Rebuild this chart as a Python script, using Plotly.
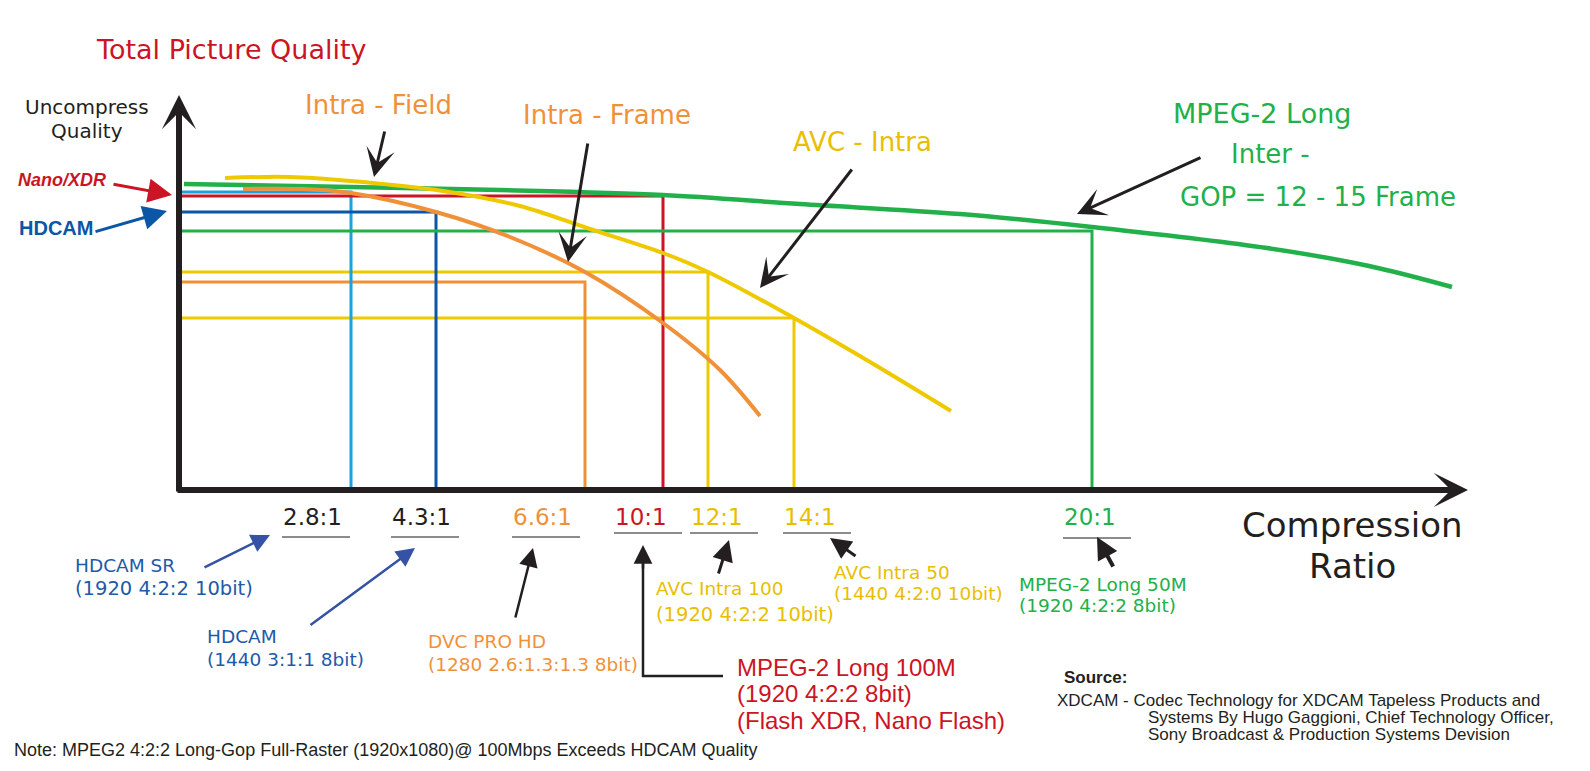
import plotly.graph_objects as go

FIG_W, FIG_H = 1590, 771

# ---------------- data ----------------
ratio_labels = ["2.8:1", "4.3:1", "6.6:1", "10:1", "12:1", "14:1", "20:1"]
ratio_pos = [351, 436, 585, 663, 708, 794, 1092]        # where each ratio sits on the compression axis
codec_quality = [192, 212, 282, 196, 272, 318, 231]    # quality level reached by each codec (axis units, smaller = better)
codec_names = ["HDCAM SR", "HDCAM", "DVC PRO HD", "MPEG-2 Long 100M",
               "AVC Intra 100", "AVC Intra 50", "MPEG-2 Long 50M"]
codec_specs = ["(1920 4:2:2 10bit)", "(1440 3:1:1 8bit)", "(1280 2.6:1.3:1.3 8bit)",
               "(1920 4:2:2 8bit)", "(1920 4:2:2 10bit)", "(1440 4:2:0 10bit)", "(1920 4:2:2 8bit)"]

mpeg2_long_x = [184, 351, 500, 663, 800, 960, 1092, 1267, 1369, 1452]
mpeg2_long_y = [184, 187, 190, 195, 204, 214, 227, 248, 266, 287]
avc_intra_x = [225, 290, 351, 443, 520, 587, 663, 708, 794, 870, 951]
avc_intra_y = [178, 177, 181, 191, 206, 228, 253, 272, 318, 362, 411]
intra_frame_x = [243, 300, 351, 436, 510, 585, 663, 720, 760]
intra_frame_y = [189, 189, 193, 212, 237, 272, 323, 370, 416]

# ---------------- styling ----------------
BLACK = "#231F20"
RED = "#CC1424"
ORANGE = "#F0913A"
YELLOW = "#EEC900"
YELLOW_T = "#E9BE00"
GREEN = "#22B04B"
LBLUE = "#1BA1DC"
DBLUE = "#0B56A6"
TBLUE = "#1E5AA8"
ABLUE = "#3553A4"
GRAY = "#8C8C8C"
GEO = "DejaVu Sans"
ARIAL = "Liberation Sans, Arial, sans-serif"

codec_colors = [LBLUE, DBLUE, ORANGE, RED, YELLOW, YELLOW, GREEN]
tick_colors = [BLACK, BLACK, ORANGE, RED, YELLOW_T, YELLOW_T, GREEN]
tick_left = [282, 391, 512, 614, 690, 783, 1063]
underline_y = [537, 537, 537, 533, 533, 533, 538]

X0, Y0 = 179, 490          # axes origin
fig = go.Figure()

# codec reference L-lines (quality level -> ratio -> axis)
order = [5, 4, 2, 0, 1, 3, 6]
for i in order:
    fig.add_trace(go.Scatter(
        x=[X0 + 3, ratio_pos[i], ratio_pos[i]],
        y=[codec_quality[i], codec_quality[i], Y0 - 3],
        mode="lines", line=dict(color=codec_colors[i], width=3),
        hoverinfo="skip"))

# curves
fig.add_trace(go.Scatter(x=mpeg2_long_x, y=mpeg2_long_y, mode="lines",
                         line=dict(color=GREEN, width=4.5, shape="spline", smoothing=1),
                         hoverinfo="skip"))
fig.add_trace(go.Scatter(x=intra_frame_x, y=intra_frame_y, mode="lines",
                         line=dict(color=ORANGE, width=4, shape="spline", smoothing=1),
                         hoverinfo="skip"))
fig.add_trace(go.Scatter(x=avc_intra_x, y=avc_intra_y, mode="lines",
                         line=dict(color=YELLOW, width=4, shape="spline", smoothing=1),
                         hoverinfo="skip"))

# gray underlines below the ratio labels
for i in range(len(ratio_labels)):
    fig.add_trace(go.Scatter(x=[tick_left[i], tick_left[i] + 68], y=[underline_y[i]] * 2,
                             mode="lines", line=dict(color=GRAY, width=2), hoverinfo="skip"))

# connector for MPEG-2 Long 100M label
fig.add_trace(go.Scatter(x=[723, 643, 643], y=[676, 676, 560], mode="lines",
                         line=dict(color=BLACK, width=2.5), hoverinfo="skip"))

ann = []


def arrow(tail, tip, color, width, head=3, size=1.0):
    ann.append(dict(x=tip[0], y=tip[1], ax=tail[0], ay=tail[1], xref="x", yref="y",
                    axref="x", ayref="y", text="", showarrow=True, arrowhead=head,
                    arrowsize=size, arrowwidth=width, arrowcolor=color, standoff=0))


def label(x, y, text, size, color, family=GEO, xanchor="center"):
    ann.append(dict(x=x, y=y, xref="x", yref="y", text=text, showarrow=False,
                    xanchor=xanchor, yanchor="middle",
                    font=dict(size=size, color=color, family=family)))


# axes with arrowheads
arrow((X0, Y0 + 3), (X0, 95), BLACK, 6, head=3, size=0.95)
arrow((X0 - 3, Y0), (1468, Y0), BLACK, 6, head=3, size=0.95)

# pointer arrows
arrow((385, 130), (374, 177), BLACK, 3, head=3, size=1.6)
arrow((588, 142), (568, 262), BLACK, 3, head=3, size=1.6)
arrow((853, 168), (760, 288), BLACK, 3, head=3, size=1.6)
arrow((1202, 157), (1077, 214), BLACK, 3, head=3, size=1.6)
arrow((112, 184), (172, 195), RED, 3, head=2, size=1.6)
arrow((94, 232), (167, 211), DBLUE, 3, head=2, size=1.6)
arrow((203, 568), (270, 535), ABLUE, 2.5, head=2, size=1.5)
arrow((309, 626), (415, 548), ABLUE, 2.5, head=2, size=1.5)
arrow((515, 619), (533, 548), BLACK, 2.5, head=2, size=1.5)
arrow((718, 575), (729, 540), BLACK, 3, head=2, size=1.4)
arrow((857, 557), (830, 538), BLACK, 3, head=2, size=1.4)
arrow((1114, 568), (1097, 537), BLACK, 4, head=2, size=1.1)
arrow((643, 570), (643, 545), BLACK, 2.5, head=2, size=1.5)

# titles
label(231, 49, "Total Picture Quality", 27, RED)
label(87, 107, "Uncompress", 20, BLACK)
label(87, 131, "Quality", 20, BLACK)
label(62, 180, "<b><i>Nano/XDR</i></b>", 18, RED, ARIAL)
label(56, 228, "<b>HDCAM</b>", 20, DBLUE, ARIAL)
label(378, 105, "Intra - Field", 26, ORANGE)
label(607, 115, "Intra - Frame", 26, ORANGE)
label(862, 142, "AVC - Intra", 26, YELLOW_T)
label(1262, 113, "MPEG-2 Long", 27, GREEN)
label(1270, 154, "Inter -", 26, GREEN)
label(1318, 197, "GOP = 12 - 15 Frame", 26, GREEN)
label(1352, 525, "Compression", 34, BLACK)
label(1352, 566, "Ratio", 34, BLACK)

# ratio labels
for i, t in enumerate(ratio_labels):
    label(tick_left[i] - 1, 517, t, 23, tick_colors[i], GEO, "left")

# codec labels (name + spec)
name_pos = {0: (73, 565, 588), 1: (205, 636, 659), 2: (426, 641, 664),
            4: (654, 588, 614), 5: (832, 572, 593), 6: (1017, 584, 605)}
name_col = {0: TBLUE, 1: TBLUE, 2: ORANGE, 4: YELLOW_T, 5: YELLOW_T, 6: GREEN}
spec_size = {0: 19.5, 1: 18.5, 2: 18.5, 4: 19.5, 5: 18.5, 6: 18.5}
for i, (x, y1, y2) in name_pos.items():
    label(x, y1, codec_names[i], 18.5, name_col[i], GEO, "left")
    label(x, y2, codec_specs[i], spec_size[i], name_col[i], GEO, "left")

label(735, 667, codec_names[3], 24, RED, ARIAL, "left")
label(735, 693, codec_specs[3], 24, RED, ARIAL, "left")
label(735, 720, "(Flash XDR, Nano Flash)", 24, RED, ARIAL, "left")

# footnotes
label(12, 750, "Note: MPEG2 4:2:2 Long-Gop Full-Raster (1920x1080)@ 100Mbps Exceeds HDCAM Quality",
      18, BLACK, ARIAL, "left")
label(1062, 677, "<b>Source:</b>", 17, BLACK, ARIAL, "left")
label(1055, 700, "XDCAM - Codec Technology for XDCAM Tapeless Products and", 17, BLACK, ARIAL, "left")
label(1146, 717, "Systems By Hugo Gaggioni, Chief Technology Officer,", 17, BLACK, ARIAL, "left")
label(1146, 734, "Sony Broadcast &amp; Production Systems Devision", 17, BLACK, ARIAL, "left")

fig.update_layout(
    width=FIG_W, height=FIG_H, autosize=False,
    margin=dict(l=0, r=0, t=0, b=0, pad=0),
    paper_bgcolor="white", plot_bgcolor="white",
    showlegend=False,
    xaxis=dict(range=[0, FIG_W], visible=False, fixedrange=True),
    yaxis=dict(range=[FIG_H, 0], visible=False, fixedrange=True),
    annotations=ann,
)

fig.write_html("out.html", config={"displayModeBar": False},
               post_script="document.body.style.margin='0';document.body.style.overflow='hidden';")
